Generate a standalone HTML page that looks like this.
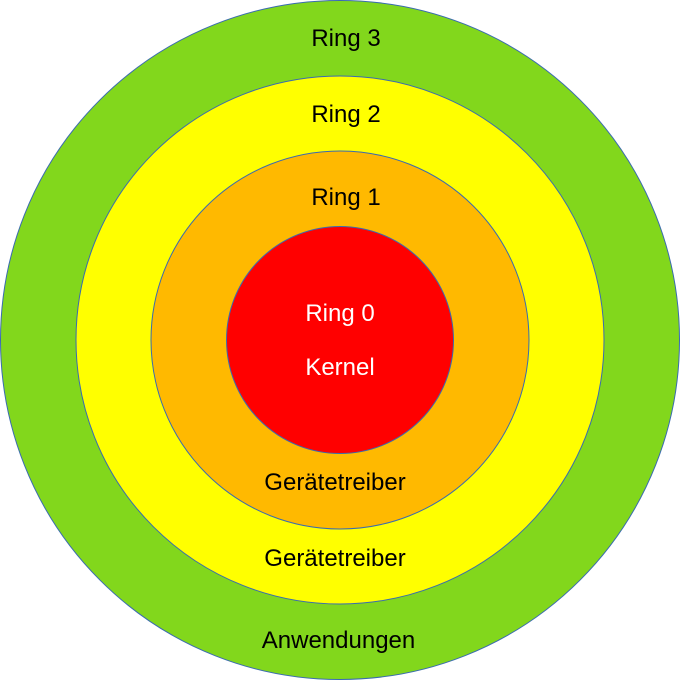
<!DOCTYPE html>
<html><head><meta charset="utf-8"><style>html,body{margin:0;padding:0;background:#fff;width:680px;height:680px;overflow:hidden}</style></head>
<body>
<svg width="680" height="680" viewBox="0 0 680 680" xmlns="http://www.w3.org/2000/svg" font-family="Liberation Sans, sans-serif" font-size="24" text-anchor="middle">
<circle cx="340" cy="340" r="339.5" fill="#82d71c" stroke="#3a6bb0" stroke-width="1"/>
<circle cx="340" cy="340" r="264" fill="#ffff00" stroke="#3a6bb0" stroke-width="1"/>
<circle cx="340" cy="340" r="189" fill="#ffb900" stroke="#3a6bb0" stroke-width="1"/>
<circle cx="340" cy="340" r="113.5" fill="#ff0000" stroke="#3a6bb0" stroke-width="1"/>
<text x="346" y="46">Ring 3</text>
<text x="346" y="122">Ring 2</text>
<text x="346" y="205">Ring 1</text>
<text x="340" y="321" fill="#fff">Ring 0</text>
<text x="340" y="375" fill="#fff">Kernel</text>
<text x="335" y="490">Gerätetreiber</text>
<text x="335" y="566">Gerätetreiber</text>
<text x="338.5" y="648">Anwendungen</text>
</svg>
</body></html>
